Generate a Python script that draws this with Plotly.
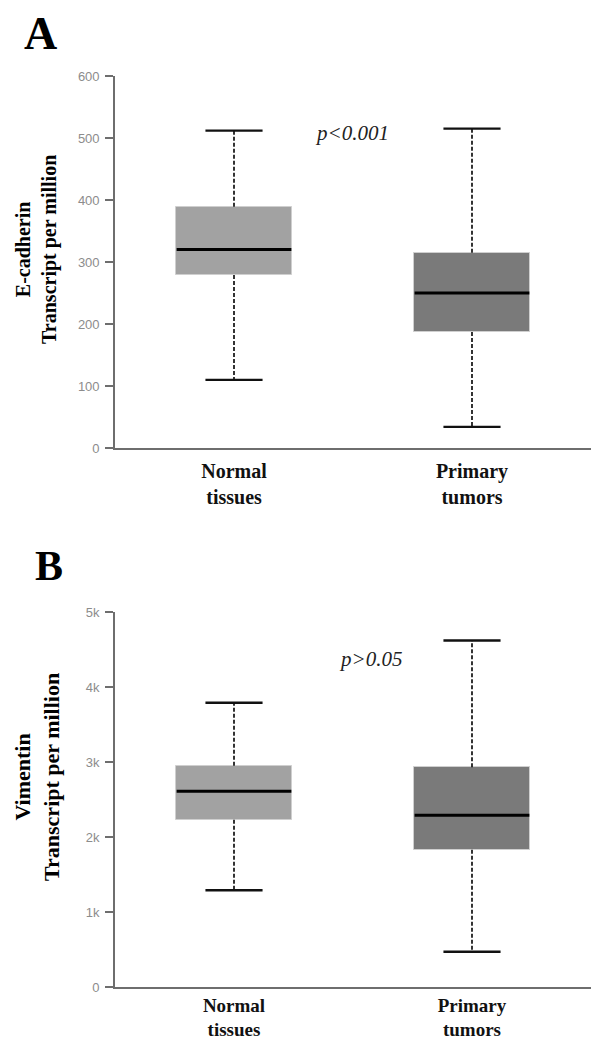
import plotly.graph_objects as go

# ---------------- data ----------------
categories = ["Normal tissues", "Primary tumors"]
fill_colors = ["#a2a2a2", "#7a7a7a"]

# Panel A: E-cadherin (TPM)
ecad_lower = [110, 34]
ecad_q1 = [279, 187]
ecad_median = [320, 250]
ecad_q3 = [389, 315]
ecad_upper = [512, 515]
ecad_ticks = [0, 100, 200, 300, 400, 500, 600]
ecad_ticktext = ["0", "100", "200", "300", "400", "500", "600"]

# Panel B: Vimentin (TPM)
vim_lower = [1290, 470]
vim_q1 = [2230, 1830]
vim_median = [2610, 2290]
vim_q3 = [2950, 2930]
vim_upper = [3790, 4620]
vim_ticks = [0, 1000, 2000, 3000, 4000, 5000]
vim_ticktext = ["0", "1k", "2k", "3k", "4k", "5k"]

W, H = 591, 1040
BOX_W = 0.49
CAP_HALF = 0.12
SERIF = "Liberation Serif, Times New Roman, serif"
SANS = "Liberation Sans, Arial, sans-serif"

cat_ticktext = ["<br>".join("<b>%s</b>" % w for w in c.split(" ")) for c in categories]

fig = go.Figure()


def add_panel(xa, ya, lower, q1, med, q3, upper):
    xs = list(range(len(categories)))
    # box bodies
    fig.add_trace(go.Bar(
        x=xs, y=[b - a for a, b in zip(q1, q3)], base=q1, width=BOX_W,
        marker=dict(color=fill_colors, line=dict(color="#cfcfcf", width=1)),
        xaxis=xa, yaxis=ya, showlegend=False, hoverinfo="skip"))
    # dashed whiskers
    wx, wy = [], []
    for i in xs:
        wx += [i, i, None, i, i, None]
        wy += [q3[i], upper[i], None, q1[i], lower[i], None]
    fig.add_trace(go.Scatter(
        x=wx, y=wy, mode="lines", line=dict(color="#111111", width=1.7, dash="4px,2px"),
        xaxis=xa, yaxis=ya, showlegend=False, hoverinfo="skip"))
    # caps
    cx, cy = [], []
    for i in xs:
        cx += [i - CAP_HALF, i + CAP_HALF, None, i - CAP_HALF, i + CAP_HALF, None]
        cy += [upper[i], upper[i], None, lower[i], lower[i], None]
    fig.add_trace(go.Scatter(
        x=cx, y=cy, mode="lines", line=dict(color="#111111", width=2.3),
        xaxis=xa, yaxis=ya, showlegend=False, hoverinfo="skip"))
    # medians
    mx, my = [], []
    for i in xs:
        mx += [i - BOX_W / 2 + 0.004, i + BOX_W / 2 - 0.004, None]
        my += [med[i], med[i], None]
    fig.add_trace(go.Scatter(
        x=mx, y=my, mode="lines", line=dict(color="#000000", width=3),
        xaxis=xa, yaxis=ya, showlegend=False, hoverinfo="skip"))


add_panel("x", "y", ecad_lower, ecad_q1, ecad_median, ecad_q3, ecad_upper)
add_panel("x2", "y2", vim_lower, vim_q1, vim_median, vim_q3, vim_upper)

x_dom = [115 / W, 1.0]
yA = [1 - 448 / H, 1 - 76 / H]
yB = [1 - 987 / H, 1 - 612 / H]

xaxis_common = dict(
    range=[-0.5, 1.5], domain=x_dom, showline=True, linecolor="#6e6e6e", linewidth=1.6,
    tickvals=list(range(len(categories))), ticktext=cat_ticktext, ticks="",
    showgrid=False, zeroline=False, automargin=False, fixedrange=True)
yaxis_common = dict(
    showline=True, linecolor="#6e6e6e", linewidth=1.6, ticks="outside", ticklen=8,
    tickwidth=1.6, tickcolor="#6e6e6e", showgrid=False, zeroline=False, automargin=False,
    tickfont=dict(family=SANS, size=13, color="#8c8c8c"), ticklabelstandoff=3,
    fixedrange=True)

fig.update_layout(
    width=W, height=H, margin=dict(l=0, r=0, t=0, b=0, autoexpand=False),
    paper_bgcolor="white", plot_bgcolor="white",
    bargap=0,
    xaxis=dict(**xaxis_common, anchor="y", ticklabelstandoff=4,
               tickfont=dict(family=SERIF, size=20, color="#111111")),
    yaxis=dict(**yaxis_common, domain=yA, range=[0, 600], tickvals=ecad_ticks,
               ticktext=ecad_ticktext, anchor="x"),
    xaxis2=dict(**xaxis_common, anchor="y2", ticklabelstandoff=0,
                tickfont=dict(family=SERIF, size=19, color="#111111")),
    yaxis2=dict(**yaxis_common, domain=yB, range=[0, 5000], tickvals=vim_ticks,
                ticktext=vim_ticktext, anchor="x2"),
)

ann = [
    dict(text="<b>A</b>", x=22 / W, y=1 - 6 / H, xanchor="left", yanchor="top",
         font=dict(family=SERIF, size=46, color="black")),
    dict(text="<b>B</b>", x=33 / W, y=1 - 541 / H, xanchor="left", yanchor="top",
         font=dict(family=SERIF, size=42, color="black")),
    dict(text="<b>E-cadherin</b><br><b>Transcript per million</b>", x=36 / W, y=1 - 250 / H,
         textangle=-90, xanchor="center", yanchor="middle",
         font=dict(family=SERIF, size=20, color="black")),
    dict(text="<b>Vimentin</b><br><b>Transcript per million</b>", x=37 / W, y=1 - 777 / H,
         textangle=-90, xanchor="center", yanchor="middle",
         font=dict(family=SERIF, size=22, color="black")),
    dict(text="<i>p<0.001</i>", x=352 / W, y=1 - 133 / H, xanchor="center", yanchor="middle",
         font=dict(family=SERIF, size=21, color="#222222")),
    dict(text="<i>p>0.05</i>", x=370 / W, y=1 - 659 / H, xanchor="center", yanchor="middle",
         font=dict(family=SERIF, size=21, color="#222222")),
]
for a in ann:
    a.update(xref="paper", yref="paper", showarrow=False)
fig.update_layout(annotations=ann)

fig.write_html("out.html", config={"displayModeBar": False},
               post_script="document.body.style.margin='0';")
